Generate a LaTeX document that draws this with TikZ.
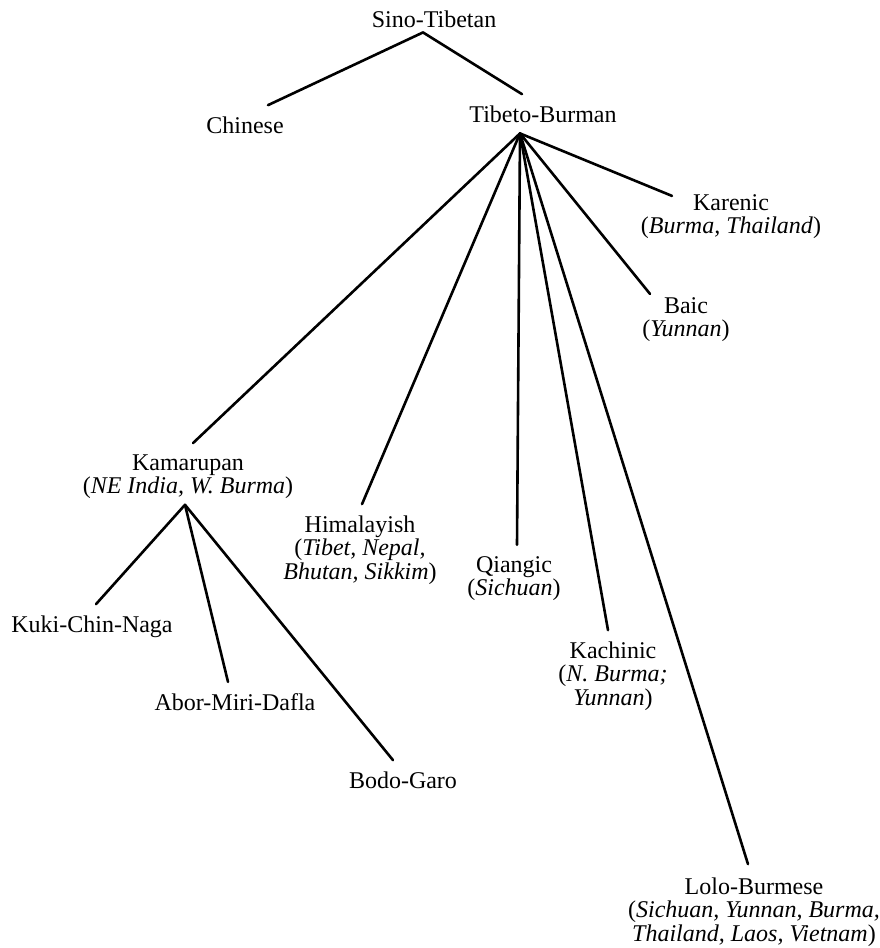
\documentclass[tikz,border=0pt]{standalone}
\usepackage{fontspec}
\setmainfont{Liberation Serif}
\usepackage{tikz}

\begin{document}
\begin{tikzpicture}[
x=1pt, y=-1pt,
langnode/.style={align=center, inner xsep=0pt, inner ysep=11pt, anchor=base, font=\fontsize{24}{23.5}\selectfont},
branch/.style={line width=2.6pt, line cap=round},
]
\useasboundingbox (0,0) rectangle (880,948);
%Nodes (y = baseline of the last line)
\node[langnode] (sino) at (434,27) {Sino-Tibetan};
\node[langnode] (chinese) at (245,133) {Chinese};
\node[langnode] (tibeto_burman) at (543,122) {Tibeto-Burman};
\node[langnode] (karenic) at (731,233.5) {Karenic\\(\emph{Burma, Thailand})};
\node[langnode] (baic) at (686,336.5) {Baic\\(\emph{Yunnan})};
\node[langnode] (kamarupan) at (188,493.5) {Kamarupan\\(\emph{NE India, W. Burma})};
\node[langnode] (himalayish) at (360,579) {Himalayish\\(\emph{Tibet, Nepal,}\\\emph{Bhutan, Sikkim})};
\node[langnode] (qiangic) at (514,595.5) {Qiangic\\(\emph{Sichuan})};
\node[langnode] (kachinic) at (613,705) {Kachinic\\(\emph{N. Burma;}\\\emph{Yunnan})};
\node[langnode] (lolo_burmese) at (754,941) {Lolo-Burmese\\(\emph{Sichuan, Yunnan, Burma,}\\\emph{Thailand, Laos, Vietnam})};
\node[langnode] (kuki) at (92,632) {Kuki-Chin-Naga};
\node[langnode] (abor) at (235,710) {Abor-Miri-Dafla};
\node[langnode] (bodo) at (403,788) {Bodo-Garo};

%Forks
\coordinate (sino_fork) at ([xshift=-11pt,yshift=6pt]sino.south);
\coordinate (tb_fork) at ([xshift=-23pt]tibeto_burman.south);
\coordinate (kam_fork) at ([xshift=-3pt,yshift=5pt]kamarupan.south);

%Lines
\draw[branch] (sino_fork) -- ([xshift=23pt]chinese.north);
\draw[branch] (sino_fork) -- ([xshift=-21pt]tibeto_burman.north);
\draw[branch] (tb_fork) -- ([xshift=-59pt,yshift=-13pt]karenic.north);
\draw[branch] (tb_fork) -- ([xshift=-36pt,yshift=-8pt]baic.north);
\draw[branch] (tb_fork) -- ([xshift=5pt]kamarupan.north);
\draw[branch] (tb_fork) -- ([xshift=2pt]himalayish.north);
\draw[branch] (tb_fork) -- ([xshift=3pt]qiangic.north);
\draw[branch] (tb_fork) -- ([xshift=-5pt]kachinic.north);
\draw[branch] (tb_fork) -- ([xshift=-6pt,yshift=2pt]lolo_burmese.north);
\draw[branch] (kam_fork) -- ([xshift=4pt]kuki.north);
\draw[branch] (kam_fork) -- ([xshift=-7pt]abor.north);
\draw[branch] (kam_fork) -- ([xshift=-10pt]bodo.north);

\end{tikzpicture}
\end{document}
